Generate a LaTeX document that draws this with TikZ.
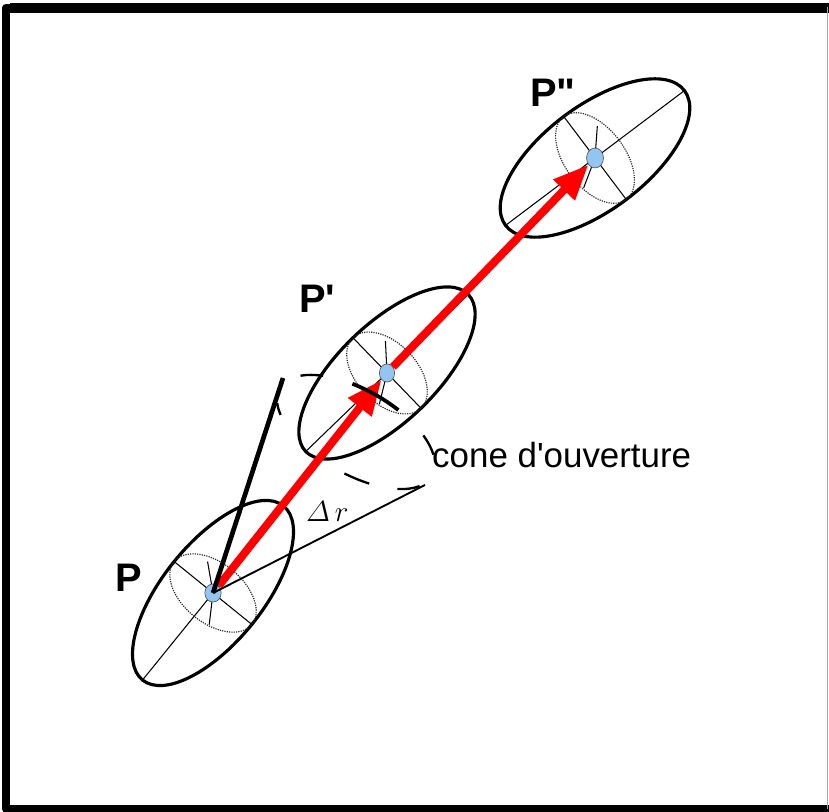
\documentclass[tikz,border=0pt]{standalone}
\usepackage{amsmath}
\usepackage{fontspec}
\setmainfont{Liberation Sans}
\usetikzlibrary{arrows.meta, shapes.geometric}

\definecolor{dotblue}{RGB}{148,196,240}

\begin{document}
\begin{tikzpicture}[x=0.03cm, y=0.03cm,
        frameline/.style={line width=6pt, line join=round},
        ellout/.style={line width=2.7pt},
        ellaxis/.style={line width=0.9pt},
        elldot/.style={densely dotted, line width=1pt, black!85},
        ptdot/.style={ellipse, draw=black!70, fill=dotblue, line width=0.5pt, inner sep=0pt, minimum width=14pt, minimum height=15.5pt},
        vec/.style={draw=red, line width=6.8pt, -{Triangle[length=30pt, width=24pt]}},
        conedash/.style={line width=2pt},
        plabel/.style={font=\fontsize{34}{36}\selectfont\bfseries, anchor=base west, inner sep=0pt},
        txt/.style={font=\fontsize{29.8}{32}\selectfont, anchor=base west, inner sep=0pt}
    ]
        \useasboundingbox (0,0) rectangle (829,812);

        % frame
        \draw[frameline] (829,3) -- (6,3) -- (6,804.5) -- (829,804.5);
        \draw[line width=7.7pt] (10,804) -- (829,804);
        \draw[black!35, line width=0.8pt] (827.5,3) -- (827.5,804.5);

        % centres of the three positions
        \coordinate (pc) at (213,219);
        \coordinate (p1c) at (387,439);
        \coordinate (p2c) at (595,654);

        % ellipsoids
        \foreach \c/\r/\a/\b in {pc/51/112/50, p1c/44/113/49, p2c/37/112/52} {
            \begin{scope}[shift={(\c)}, rotate=\r]
                \draw[ellout] (0,0) ellipse[x radius=\a, y radius=\b];
                \draw[ellaxis] (-\a,0) -- (\a,0);
                \draw[ellaxis] (0,-\b) -- (0,\b);
                \draw[ellaxis] (-27,-17) -- (0,0) -- (21,24);
                \draw[elldot] (0,0) ellipse[x radius=30, y radius=\b];
            \end{scope}
        }

        \node[ptdot] (p) at (pc) {};
        \node[ptdot, minimum width=13pt] (p1) at (p1c) {};
        \node[ptdot, minimum width=14.5pt, minimum height=17pt] (p2) at (p2c) {};

        % displacements
        \draw[vec] (p) -- (p1);
        \draw[vec] (p1) -- (p2);

        % cone
        \begin{scope}[shift={(356,380)}, rotate=-30]
            \foreach \s/\e in {-43/-21, -83/-65, -160/-147, 130/150, 27/47}
                \draw[conedash] (\s:88 and 42) arc[start angle=\s, end angle=\e, x radius=88, y radius=42];
            \draw[conedash, line width=3.2pt] (73:88 and 42) arc[start angle=73, end angle=108, x radius=88, y radius=42];
        \end{scope}
        \coordinate (gtop) at (283,434);
        \coordinate (gbot) at (425,327);
        \draw[line width=4pt] (p.center) -- (gtop);
        \draw[line width=1.6pt] (p.center) -- (gbot);

        % labels
        \node[plabel] (lp) at (115,220) {P};
        \node[plabel] (lp1) at (299,499) {P\textquotesingle};
        \node[plabel] (lp2) at (530,705) {P\textquotedbl};
        \node[txt] (cone) at (432,344) {cone d\textquotesingle ouverture};
        \node[anchor=base west, inner sep=0pt, font=\fontsize{31}{33}\selectfont] (dr) at (306,290) {$\varDelta\,r$};
    \end{tikzpicture}
\end{document}
